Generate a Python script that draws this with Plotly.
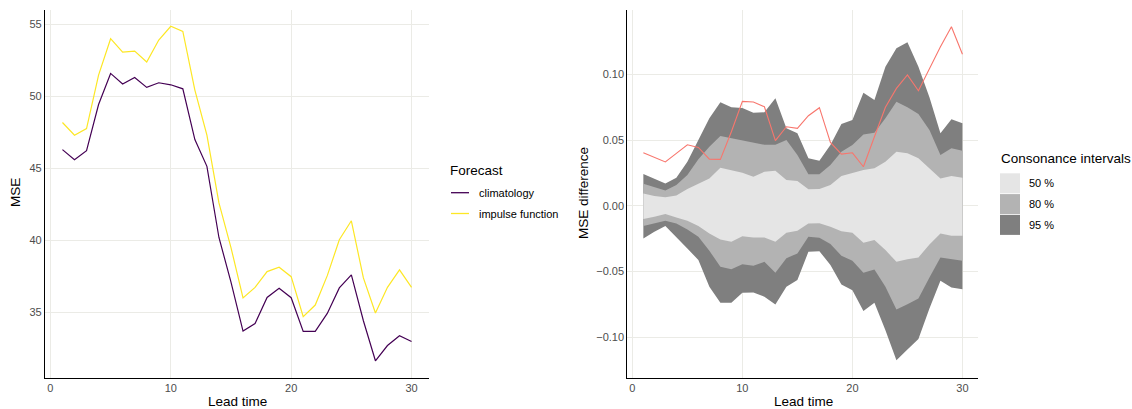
import plotly.graph_objects as go

# Lead times (days)
lead = list(range(1, 31))

# MSE per lead time for each forecast
mse_climatology = [46.30, 45.60, 46.23, 49.43, 51.59, 50.85, 51.31, 50.62, 50.94, 50.80,
                   50.52, 47.00, 45.14, 40.20, 37.10, 33.70, 34.23, 36.04, 36.67, 36.02,
                   33.68, 33.68, 34.93, 36.70, 37.60, 34.42, 31.64, 32.70, 33.38, 32.98]
mse_impulse = [48.18, 47.30, 47.76, 51.47, 54.00, 53.07, 53.14, 52.38, 53.91, 54.86,
               54.51, 50.43, 47.30, 42.60, 39.50, 36.00, 36.74, 37.83, 38.13, 37.48,
               34.70, 35.51, 37.55, 40.04, 41.36, 37.39, 34.96, 36.74, 37.95, 36.74]

# Observed MSE difference
mse_diff = [0.0403, 0.0368, 0.0333, 0.0399, 0.0464, 0.0444, 0.0355, 0.0353, 0.0563, 0.0794,
            0.0789, 0.0753, 0.0495, 0.0601, 0.0589, 0.0685, 0.0746, 0.0482, 0.0393, 0.0403,
            0.0297, 0.0525, 0.0749, 0.0893, 0.0995, 0.0875, 0.1046, 0.1210, 0.1362, 0.1152]

# Consonance interval bounds
upper_95 = [0.0241, 0.0203, 0.0170, 0.0213, 0.0335, 0.0500, 0.0665, 0.0787, 0.0749, 0.0744,
            0.0708, 0.0711, 0.0817, 0.0589, 0.0551, 0.0361, 0.0342, 0.0462, 0.0622, 0.0652,
            0.0860, 0.0804, 0.1058, 0.1198, 0.1243, 0.1058, 0.0825, 0.0551, 0.0658, 0.0627]
upper_80 = [0.0167, 0.0140, 0.0117, 0.0158, 0.0234, 0.0353, 0.0449, 0.0530, 0.0513, 0.0500,
            0.0479, 0.0464, 0.0464, 0.0500, 0.0386, 0.0239, 0.0239, 0.0310, 0.0411, 0.0462,
            0.0543, 0.0556, 0.0665, 0.0791, 0.0749, 0.0698, 0.0576, 0.0386, 0.0437, 0.0419]
upper_50 = [0.0094, 0.0074, 0.0064, 0.0079, 0.0127, 0.0170, 0.0208, 0.0289, 0.0272, 0.0251,
            0.0221, 0.0259, 0.0266, 0.0196, 0.0188, 0.0125, 0.0127, 0.0158, 0.0226, 0.0247,
            0.0272, 0.0285, 0.0335, 0.0411, 0.0399, 0.0361, 0.0285, 0.0208, 0.0226, 0.0213]
lower_50 = [-0.0101, -0.0084, -0.0063, -0.0089, -0.0114, -0.0154, -0.0210, -0.0256, -0.0274, -0.0231,
            -0.0241, -0.0241, -0.0274, -0.0205, -0.0190, -0.0134, -0.0132, -0.0160, -0.0193, -0.0205,
            -0.0281, -0.0261, -0.0337, -0.0426, -0.0406, -0.0393, -0.0294, -0.0210, -0.0228, -0.0228]
lower_80 = [-0.0154, -0.0134, -0.0114, -0.0134, -0.0180, -0.0236, -0.0342, -0.0464, -0.0482, -0.0444,
            -0.0457, -0.0426, -0.0510, -0.0400, -0.0362, -0.0236, -0.0243, -0.0291, -0.0381, -0.0418,
            -0.0510, -0.0484, -0.0616, -0.0788, -0.0748, -0.0705, -0.0545, -0.0393, -0.0406, -0.0418]
lower_95 = [-0.0248, -0.0198, -0.0154, -0.0236, -0.0324, -0.0413, -0.0616, -0.0738, -0.0738, -0.0662,
            -0.0659, -0.0692, -0.0750, -0.0616, -0.0565, -0.0350, -0.0345, -0.0451, -0.0598, -0.0642,
            -0.0801, -0.0738, -0.0946, -0.1174, -0.1093, -0.1014, -0.0781, -0.0571, -0.0621, -0.0634]

forecast_names = ["climatology", "impulse function"]
forecast_colors = ["#440154", "#FDE725"]
interval_names = ["50 %", "80 %", "95 %"]
interval_colors = ["#E5E5E5", "#B3B3B3", "#7F7F7F"]
diff_color = "#F8766D"

left_ticks = [35, 40, 45, 50, 55]
right_ticks = [-0.10, -0.05, 0.00, 0.05, 0.10]
x_ticks = [0, 10, 20, 30]

W, H = 1132, 409
FONT = "Liberation Sans, Arial, sans-serif"
GRID = "#EBEBE6"


def px_x(v):
    return v / W


def px_y(v):
    return 1 - v / H


fig = go.Figure()

# Left panel: MSE lines
for name, col, vals in zip(forecast_names, forecast_colors, [mse_climatology, mse_impulse]):
    fig.add_trace(go.Scatter(x=lead, y=vals, mode="lines", name=name,
                             line=dict(color=col, width=1.2),
                             xaxis="x", yaxis="y", showlegend=False))

# Right panel: nested interval bands (widest first)
bands = [(upper_95, lower_95, interval_colors[2]),
         (upper_80, lower_80, interval_colors[1]),
         (upper_50, lower_50, interval_colors[0])]
for up, lo, col in bands:
    fig.add_trace(go.Scatter(x=lead + lead[::-1], y=up + lo[::-1], mode="lines",
                             fill="toself", fillcolor=col, line=dict(width=0, color=col),
                             xaxis="x2", yaxis="y2", showlegend=False, hoverinfo="skip"))

fig.add_trace(go.Scatter(x=lead, y=mse_diff, mode="lines", line=dict(color=diff_color, width=1.1),
                         xaxis="x2", yaxis="y2", showlegend=False))

axis_common = dict(showgrid=True, gridcolor=GRID, gridwidth=1, zeroline=False,
                   showline=True, linecolor="black", linewidth=1.2, ticks="",
                   tickfont=dict(family=FONT, size=11, color="#4D4D4D"), mirror=False)

ydom = [px_y(377.5), px_y(9.6)]
fig.update_layout(
    width=W, height=H,
    margin=dict(l=0, r=0, t=0, b=0),
    paper_bgcolor="white", plot_bgcolor="white",
    xaxis=dict(domain=[px_x(45), px_x(429)], range=[-0.45, 31.45], tickvals=x_ticks,
               anchor="y", **axis_common),
    yaxis=dict(domain=ydom, range=[30.48, 56.02], tickvals=left_ticks, anchor="x",
               **axis_common),
    xaxis2=dict(domain=[px_x(627.4), px_x(978.4)], range=[-0.45, 31.45], tickvals=x_ticks,
                anchor="y2", **axis_common),
    yaxis2=dict(domain=ydom, range=[-0.1306, 0.1492], tickvals=right_ticks, tickformat=".2f",
                anchor="x2", **axis_common),
    showlegend=False,
)

annotations = []
shapes = []

# Axis titles
title_font = dict(family=FONT, size=13.5, color="black")
annotations += [
    dict(text="Lead time", x=px_x(237), y=px_y(401), xref="paper", yref="paper",
         showarrow=False, font=title_font, xanchor="center", yanchor="middle"),
    dict(text="Lead time", x=px_x(803), y=px_y(401), xref="paper", yref="paper",
         showarrow=False, font=title_font, xanchor="center", yanchor="middle"),
    dict(text="MSE", x=px_x(15), y=px_y(193), xref="paper", yref="paper",
         showarrow=False, font=title_font, textangle=-90, xanchor="center", yanchor="middle"),
    dict(text="MSE difference", x=px_x(583), y=px_y(193), xref="paper", yref="paper",
         showarrow=False, font=title_font, textangle=-90, xanchor="center", yanchor="middle"),
]

# Forecast legend
annotations.append(dict(text="Forecast", x=px_x(448), y=px_y(170), xref="paper", yref="paper",
                        showarrow=False, font=title_font, xanchor="left", yanchor="middle"))
for i, (name, col) in enumerate(zip(forecast_names, forecast_colors)):
    yc = 192.7 + i * 20.8
    shapes.append(dict(type="line", xref="paper", yref="paper",
                       x0=px_x(451), x1=px_x(469), y0=px_y(yc), y1=px_y(yc),
                       line=dict(color=col, width=1.3)))
    annotations.append(dict(text=name, x=px_x(476.5), y=px_y(yc), xref="paper", yref="paper",
                            showarrow=False, font=dict(family=FONT, size=11, color="black"),
                            xanchor="left", yanchor="middle"))

# Consonance interval legend
annotations.append(dict(text="Consonance intervals", x=px_x(999), y=px_y(159), xref="paper",
                        yref="paper", showarrow=False, font=title_font,
                        xanchor="left", yanchor="middle"))
for i, (name, col) in enumerate(zip(interval_names, interval_colors)):
    y0 = 173.3 + i * 20.8
    shapes.append(dict(type="rect", xref="paper", yref="paper",
                       x0=px_x(1000), x1=px_x(1020), y0=px_y(y0), y1=px_y(y0 + 20),
                       fillcolor=col, line=dict(width=0)))
    annotations.append(dict(text=name, x=px_x(1026.5), y=px_y(y0 + 10), xref="paper",
                            yref="paper", showarrow=False,
                            font=dict(family=FONT, size=11, color="black"),
                            xanchor="left", yanchor="middle"))

fig.update_layout(annotations=annotations, shapes=shapes)
fig.write_html("out.html")
